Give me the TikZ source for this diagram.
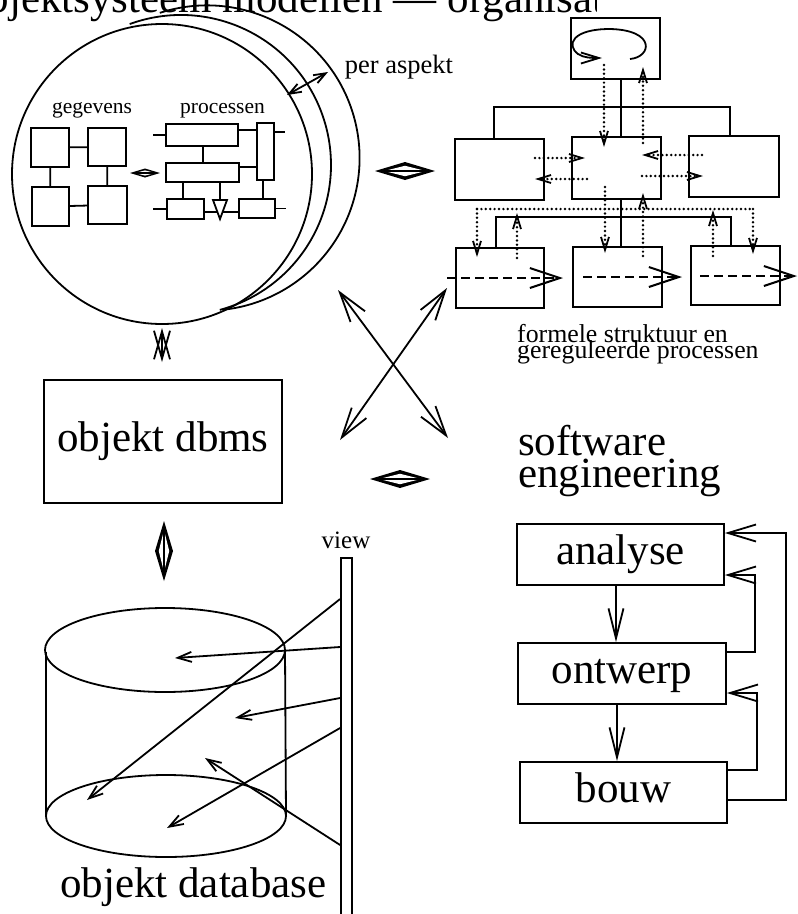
\documentclass[tikz,border=0pt]{standalone}
\usepackage{fontspec}
\setmainfont{Liberation Serif}
\usetikzlibrary{arrows.meta,calc}
\newcommand\szbig{\fontsize{43}{43}\selectfont}
\newcommand\szmid{\fontsize{26.5}{26.5}\selectfont}
\newcommand\szfor{\fontsize{25.8}{25.8}\selectfont}
\newcommand\szview{\fontsize{25}{25}\selectfont}
\newcommand\szsm{\fontsize{21.5}{21.5}\selectfont}
\tikzset{
  xbarb/.tip={Straight Barb[length=30pt,width=18pt]},
  sebarb/.tip={Straight Barb[length=30pt,width=15pt]},
  fbbarb/.tip={Straight Barb[length=28pt,width=17pt]},
  vbarb/.tip={Straight Barb[length=14pt,width=10pt]},
  dbarb/.tip={Straight Barb[length=13pt,width=8pt,line width=1.8pt]},
  dsbarb/.tip={Straight Barb[length=30pt,width=20pt,line width=2pt]},
  pbarb/.tip={Straight Barb[length=12pt,width=9pt]},
  lbarb/.tip={Straight Barb[length=18pt,width=11pt]},
  zbarb/.tip={Straight Barb[length=28pt,width=16pt]},
  ln/.style={line width=1.8pt},
  boxn/.style={draw,line width=1.8pt,inner sep=0pt,rectangle},
  txt/.style={inner sep=0pt},
  dotl/.style={line width=2.7pt,dash pattern=on 0pt off 4.4pt,line cap=round},
  dshl/.style={line width=2.4pt,dash pattern=on 9pt off 5pt},
  bigtxt/.style={font=\szbig,text height=29.4pt,text depth=9.3pt},
  fatdbl/.pic={
    \fill[black] (-30,0) -- (0,-9) -- (30,0) -- (0,9) -- cycle;
    \fill[white] (-21,0) -- (0,-5.2) -- (21,0) -- (0,5.2) -- cycle;
    \draw[line width=1.8pt] (-22,0) -- (22,0);
  }
}
\begin{document}
\begin{tikzpicture}[x=1pt,y=-1pt]
\useasboundingbox (0,0) rectangle (798,914);
% title (cut off at the top)
\begin{scope}
  \clip (-60,-60) rectangle (596,60);
  \node[txt,anchor=base west,font=\szbig] (title) at (-34,12) {objektsysteem modellen — organisatie};
\end{scope}
% stacked circles
\draw[ln] (162,174) circle[radius=150];
\draw[ln] ($(181,165)+(-110:150)$) arc[start angle=-110,end angle=75,radius=150];
\draw[ln] ($(207,158)+(-108:152.6)$) arc[start angle=-108,end angle=84,radius=152.6];
\node[txt,anchor=base,font=\szmid] (peraspekt) at (399,73) {per aspekt};
\coordinate (pa1) at (287,95);
\coordinate (pa2) at (328,72);
\draw[ln,pbarb-pbarb] (pa1) -- (pa2);
% gegevens
\node[txt,anchor=base,font=\szsm] (gegevens) at (92,113) {gegevens};
\node[boxn,minimum width=38pt,minimum height=39pt] (g1) at (50,147.5) {};
\node[boxn,minimum width=38pt,minimum height=38pt] (g2) at (107,147) {};
\node[boxn,minimum width=37pt,minimum height=39pt] (g3) at (50.5,206.5) {};
\node[boxn,minimum width=39pt,minimum height=38pt] (g4) at (107.5,205) {};
\draw[ln] (g1) -- (g2);
\draw[ln] (g1) -- (g3);
\draw[ln] (g2) -- (g4);
\draw[ln] (g3) -- (g4);
\pic[scale=0.5] (dsmall) at (145,173) {fatdbl};
% processen
\node[txt,anchor=base,font=\szsm] (processen) at (222.5,113) {processen};
\node[boxn,minimum width=72pt,minimum height=22pt] (p1) at (202,135) {};
\node[boxn,minimum width=73pt,minimum height=19pt] (p2) at (202.5,172.5) {};
\node[boxn,minimum width=17pt,minimum height=57pt] (p3) at (265.5,151.5) {};
\node[boxn,minimum width=37pt,minimum height=20pt] (p4) at (185.5,209) {};
\node[boxn,minimum width=36pt,minimum height=19pt] (p5) at (257,208.5) {};
\draw[ln] (213,200) -- (227,200) -- (220,219) -- cycle;
\coordinate (tri) at (220,200);
\draw[ln] (p1.west) -- ++(-12,0);
\draw[ln] (p1.east |- 0,130) -- (p3.west |- 0,130);
\draw[ln] (p1.south -| 203,0) -- (p2.north -| 203,0);
\draw[ln] (p2.east |- 0,167) -- (p3.west |- 0,167);
\draw[ln] (p2.south -| 183,0) -- (p4.north -| 183,0);
\draw[ln] (p2.south -| 220,0) -- (tri);
\draw[ln] (p3.south -| 263,0) -- (p5.north -| 263,0);
\draw[ln] (p3.east |- 0,132) -- ++(10,0);
\draw[ln] (p4.west) -- ++(-13,0);
\draw[ln] (p4.east |- 0,212) -- (217.4,212);
\draw[ln] (222.6,212) -- (p5.west |- 0,212);
\draw[ln] (p5.east) -- ++(10,0);
% between circle and org chart
\pic (dA) at (405,171) {fatdbl};
% org chart
\node[boxn,minimum width=89pt,minimum height=61pt] (T) at (615.5,48.5) {};
\node[boxn,minimum width=89pt,minimum height=61pt] (L1) at (499.5,169.5) {};
\node[boxn,minimum width=89pt,minimum height=62pt] (M1) at (616.5,168) {};
\node[boxn,minimum width=90pt,minimum height=61pt] (R1) at (734,166.5) {};
\node[boxn,minimum width=88pt,minimum height=60pt] (L2) at (500,278) {};
\node[boxn,minimum width=89pt,minimum height=60pt] (M2) at (617.5,277) {};
\node[boxn,minimum width=89pt,minimum height=59pt] (R2) at (735.5,275.5) {};
\draw[ln,-lbarb] (630,59) .. controls (652,57) and (656,30) .. (610,29)
   .. controls (572,29) and (566,45) .. (578,54) .. controls (584,58) and (592,58) .. (602,58);
\draw[ln] (T.south -| 621,0) -- (M1.north -| 621,0);
\draw[ln] (L1.north -| 494,0) |- (730,107) -- (R1.north -| 730,0);
\draw[ln] (M1.south -| 621,0) -- (M2.north -| 621,0);
\draw[ln] (L2.north -| 496,0) |- (731,217) -- (R2.north -| 731,0);
% dotted control flows
\draw[dotl,-dbarb] (604,65) -- (604,147);
\draw[dotl,-dbarb] (643,143) -- (643,67);
\draw[dotl,-dbarb] (535,158) -- (585,158);
\draw[dotl,-dbarb] (587,179) -- (535,179);
\draw[dotl,-dbarb] (702,155) -- (642,155);
\draw[dotl,-dbarb] (642,176) -- (703,176);
\draw[dotl] (477,209) -- (753,209);
\draw[dotl,-dbarb] (477,209) -- (477,257);
\draw[dotl,-dbarb] (753,209) -- (753,254);
\draw[dotl,-dbarb] (605,187) -- (605,253);
\draw[dotl,-dbarb] (517,258) -- (517,213);
\draw[dotl,-dbarb] (643,256) -- (643,193);
\draw[dotl,-dbarb] (713,256) -- (713,210);
% dashed process flows
\draw[dshl,-dsbarb] (447,278) -- (563,278);
\draw[dshl,-dsbarb] (583,277) -- (682,277);
\draw[dshl,-dsbarb] (700,276) -- (797,276);
\node[txt,anchor=base west,font=\szfor] (form1) at (517,342) {formele struktuur en};
\node[txt,anchor=base west,font=\szfor] (form2) at (517,358) {gereguleerde processen};
% crossing arrows
\coordinate (x1a) at (338,290);
\coordinate (x1b) at (448,438);
\coordinate (x2a) at (447,288);
\coordinate (x2b) at (340,440);
\draw[ln,xbarb-xbarb] (x1a) -- (x1b);
\draw[ln,xbarb-xbarb] (x2a) -- (x2b);
% circle <-> dbms
\coordinate (z1) at (162,328);
\coordinate (z2) at (162,362);
\draw[ln,zbarb-zbarb] (z1) -- (z2);
% objekt dbms
\node[boxn,bigtxt,minimum width=238pt,minimum height=123pt] (dbms) at (163,441.5) {objekt dbms};
\pic (dB) at (400,479) {fatdbl};
\pic[rotate=90] (dC) at (164,551) {fatdbl};
% software engineering
\node[txt,anchor=base west,font=\szbig] (sw1) at (518,455) {software};
\node[txt,anchor=base west,font=\szbig] (sw2) at (518,487) {engineering};
\node[boxn,bigtxt,minimum width=207pt,minimum height=61pt] (analyse) at (620.5,554.5) {analyse};
\node[boxn,bigtxt,minimum width=208pt,minimum height=61pt] (ontwerp) at (622,673.5) {ontwerp};
\node[boxn,bigtxt,minimum width=207pt,minimum height=61pt] (bouw) at (623.5,792.5) {bouw};
\draw[ln,-sebarb] (analyse.south -| 616,0) -- (ontwerp.north -| 616,0);
\draw[ln,-sebarb] (ontwerp.south -| 617,0) -- (bouw.north -| 617,0);
\draw[ln,-fbbarb] (ontwerp.east |- 0,652) -| (755,575) -- (analyse.east |- 0,575);
\draw[ln,-fbbarb] (bouw.east |- 0,770) -| (757,693) -- (ontwerp.east |- 0,693);
\draw[ln,-fbbarb] (bouw.east |- 0,800) -| (786,533) -- (analyse.east |- 0,533);
% database cylinder
\draw[ln] (165,650) ellipse[x radius=120,y radius=42];
\draw[ln] (166,816) ellipse[x radius=120,y radius=41];
\draw[ln] (46,652) -- (46,816);
\draw[ln] (285,650) -- (286,816);
\node[txt,anchor=base west,font=\szbig] (dbtxt) at (60,897) {objekt database};
% view
\node[boxn,minimum width=11pt,minimum height=400pt] (viewbar) at (346.5,758) {};
\node[txt,anchor=base,font=\szview] (viewlbl) at (346,548) {view};
\coordinate (va) at (175,658);
\coordinate (vb) at (235,718);
\coordinate (vc) at (167,828);
\coordinate (vd) at (205,758);
\coordinate (ve) at (87,800);
\draw[ln,-vbarb] (viewbar.west |- 0,647) -- (va);
\draw[ln,-vbarb] (viewbar.west |- 0,698) -- (vb);
\draw[ln,-vbarb] (viewbar.west |- 0,728) -- (vc);
\draw[ln,-vbarb] (viewbar.west |- 0,845) -- (vd);
\draw[ln,-vbarb] (viewbar.west |- 0,599) -- (ve);
\end{tikzpicture}
\end{document}
